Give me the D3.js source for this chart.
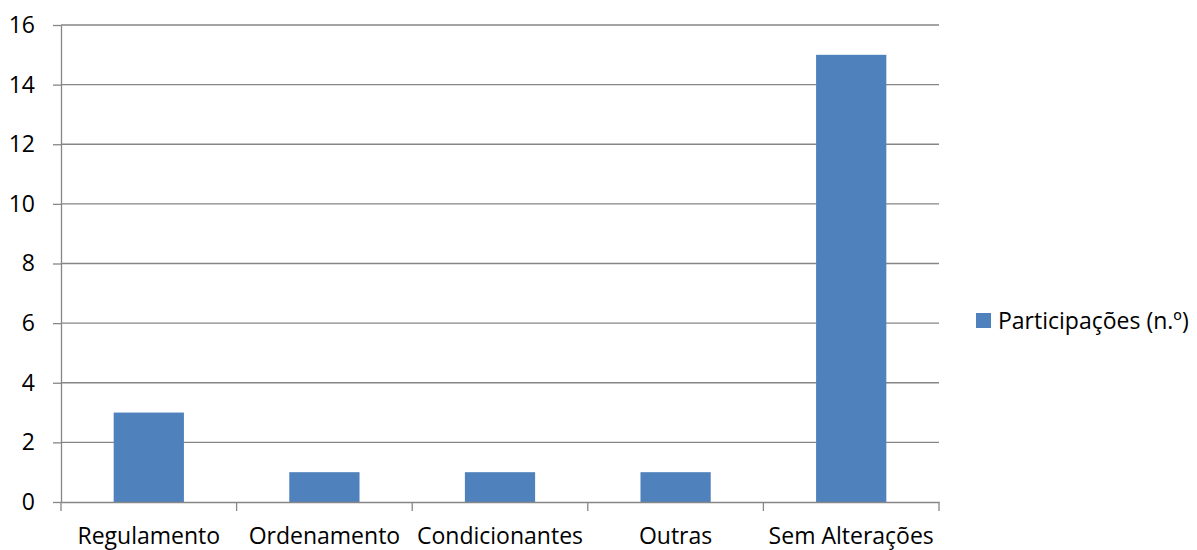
<!DOCTYPE html>
<html><head><meta charset="utf-8">
<script src="https://cdn.jsdelivr.net/npm/d3@7"></script>
<style>body{margin:0;background:#fff}svg{display:block}text{font-family:"Open Sans",sans-serif;fill:#000}</style>
</head><body>
<script>
const categories = ["Regulamento","Ordenamento","Condicionantes","Outras","Sem Alterações"];
const values = [3,1,1,1,15];
const yTicks = [0,2,4,6,8,10,12,14,16];
const seriesName = "Participações (n.º)";

const W=1197,H=550;
const m={left:61,right:939,top:25,bottom:502};
const fs="23px";
const svg=d3.select("body").append("svg").attr("width",W).attr("height",H);
const x=d3.scaleBand().domain(categories).range([m.left,m.right]).padding(0);
const y=d3.scaleLinear().domain([0,16]).range([m.bottom,m.top]);
const grey="#868686";

// gridlines
svg.append("g").selectAll("line").data(yTicks.filter(d=>d>0)).join("line")
  .attr("x1",m.left).attr("x2",m.right).attr("y1",d=>y(d)).attr("y2",d=>y(d))
  .attr("stroke",grey).attr("stroke-width",1.3);

// bars
const bw=x.bandwidth()*0.4;
svg.append("g").selectAll("rect").data(values).join("rect")
  .attr("x",(d,i)=>x(categories[i])+x.bandwidth()/2-bw/2)
  .attr("width",bw)
  .attr("y",d=>y(d)).attr("height",d=>y(0)-y(d))
  .attr("fill","#4F81BD");

// y axis
const ya=svg.append("g").attr("transform",`translate(${m.left},0)`)
  .call(d3.axisLeft(y).tickValues(yTicks).tickSize(8).tickPadding(18).tickSizeOuter(0));
ya.select(".domain").attr("stroke",grey).attr("stroke-width",1.3);
ya.selectAll(".tick line").attr("stroke",grey).attr("stroke-width",1.3);
ya.selectAll(".tick text").style("font-size",fs).attr("fill","#000");

// x axis
const xa=svg.append("g").attr("transform",`translate(0,${m.bottom})`)
  .call(d3.axisBottom(x).tickSize(0).tickPadding(22).tickSizeOuter(0));
xa.select(".domain").attr("stroke",grey).attr("stroke-width",1.3);
xa.selectAll(".tick text").style("font-size",fs).attr("fill","#000").attr("y",41.5).attr("dy",0);
// category boundary ticks
const bounds=categories.map(c=>x(c)).concat([m.right]);
xa.append("g").selectAll("line").data(bounds).join("line")
  .attr("x1",d=>d).attr("x2",d=>d).attr("y1",0).attr("y2",9)
  .attr("stroke",grey).attr("stroke-width",1.3);

// legend
const lg=svg.append("g").attr("transform","translate(976,313)");
lg.append("rect").attr("width",15).attr("height",15).attr("fill","#4F81BD");
lg.append("text").attr("x",22).attr("y",7.5).attr("dy","0.35em").style("font-size",fs).text(seriesName);
</script>
</body></html>
